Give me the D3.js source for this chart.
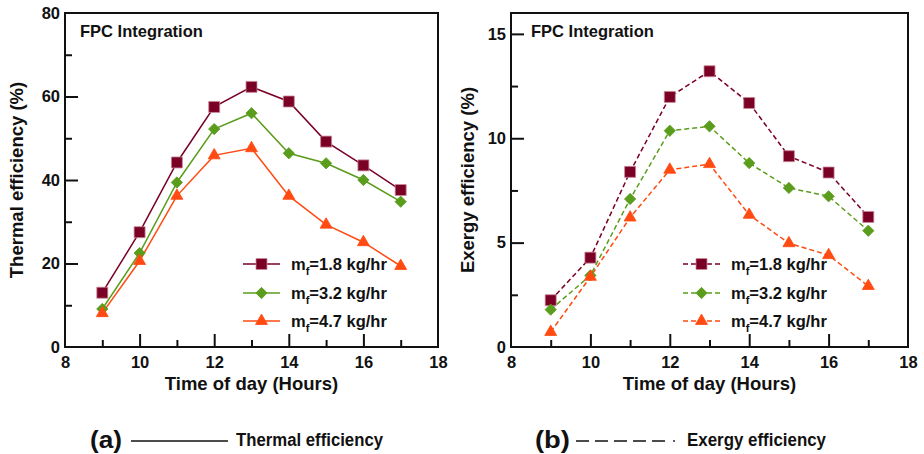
<!DOCTYPE html>
<html><head><meta charset="utf-8">
<script src="https://cdn.jsdelivr.net/npm/d3@7"></script>
<style>
body{margin:0;background:#fff;}
text{font-family:"Liberation Sans",Arial,sans-serif;font-weight:bold;fill:#111;}
</style></head>
<body><svg id="c" width="924" height="454"></svg>
<script>
const hours = [9,10,11,12,13,14,15,16,17];
const seriesNames = ["1.8 kg/hr","3.2 kg/hr","4.7 kg/hr"];
const thermal18 = [13.0,27.5,44.2,57.5,62.3,58.8,49.2,43.5,37.6];
const thermal32 = [9.1,22.5,39.4,52.2,56.0,46.4,44.0,40.0,34.8];
const thermal47 = [8.1,20.6,36.2,45.9,47.6,36.2,29.3,25.1,19.4];
const exergy18 = [2.24,4.28,8.39,11.98,13.21,11.69,9.14,8.36,6.23];
const exergy32 = [1.79,3.43,7.09,10.36,10.57,8.81,7.62,7.22,5.57];
const exergy47 = [0.72,3.36,6.20,8.49,8.76,6.33,4.97,4.40,2.92];
const xTicks = [8,10,12,14,16,18];
const thermalTicks = [0,20,40,60,80];
const exergyTicks = [0,5,10,15];

const colors = ["#7a0025","#5a9c1c","#ff4a12"];
// wide diamond (rotated square)
const wideDiamond = {draw(ctx,size){const r=Math.sqrt(size/2);ctx.moveTo(0,-r);ctx.lineTo(r,0);ctx.lineTo(0,r);ctx.lineTo(-r,0);ctx.closePath();}};
const shapes = [d3.symbolSquare, wideDiamond, d3.symbolTriangle];
const sizes = [121, 64, 62];

const svg = d3.select("#c");

function panel(o){
  const g = svg.append("g");
  const x = d3.scaleLinear().domain([8,18]).range([o.x0,o.x1]);
  const y = d3.scaleLinear().domain([0,o.ymax]).range([o.y1,o.y0]);
  const minorX = d3.range(9,18,1);
  g.append("g").attr("transform",`translate(0,${o.y1})`)
    .call(d3.axisBottom(x).tickValues(minorX).tickSize(0).tickFormat(""))
    .call(s=>s.select(".domain").remove())
    .call(s=>s.selectAll(".tick line").attr("y2",d=>d%2===0?-13:-7).attr("stroke","#111").attr("stroke-width",2));
  g.append("g").attr("transform",`translate(0,${o.y1})`)
    .call(d3.axisBottom(x).tickValues(xTicks).tickSize(0).tickPadding(9))
    .call(s=>s.select(".domain").remove())
    .call(s=>s.selectAll("text").attr("font-size",16.5).attr("font-family","Liberation Sans, Arial").attr("font-weight","bold").attr("fill","#111"));
  g.append("g").attr("transform",`translate(${o.x0},0)`)
    .call(d3.axisLeft(y).tickValues(o.minorY).tickSize(0).tickFormat(""))
    .call(s=>s.select(".domain").remove())
    .call(s=>s.selectAll(".tick line").attr("x2",d=>o.yTicks.includes(d)?13:7).attr("stroke","#111").attr("stroke-width",2));
  g.append("g").attr("transform",`translate(${o.x0},0)`)
    .call(d3.axisLeft(y).tickValues(o.yTicks).tickSize(0).tickPadding(5))
    .call(s=>s.select(".domain").remove())
    .call(s=>s.selectAll("text").attr("font-size",16.5).attr("font-family","Liberation Sans, Arial").attr("font-weight","bold").attr("fill","#111"));
  g.append("rect").attr("x",o.x0).attr("y",o.y0).attr("width",o.x1-o.x0).attr("height",o.y1-o.y0)
    .attr("fill","none").attr("stroke","#111").attr("stroke-width",2);

  const line = d3.line().x((d,i)=>x(hours[i])).y(d=>y(d));
  o.data.forEach((arr,k)=>{
    g.append("path").datum(arr).attr("d",line).attr("fill","none").attr("stroke",colors[k])
      .attr("stroke-width",1.5).attr("stroke-dasharray",o.dash||null);
  });
  o.data.forEach((arr,k)=>{
    g.selectAll(null).data(arr).enter().append("path")
      .attr("d",d3.symbol().type(shapes[k]).size(sizes[k]))
      .attr("transform",(d,i)=>`translate(${x(hours[i])},${y(d)})`)
      .attr("fill",colors[k]).attr("stroke",k===0?"#c98a9a":colors[k]).attr("stroke-width",0.8);
  });
  g.append("text").attr("x",o.titleX).attr("y",37).attr("font-size",16.5).text("FPC Integration");
  g.append("text").attr("x",(o.x0+o.x1)/2).attr("y",390).attr("text-anchor","middle").attr("font-size",18.5).text("Time of day (Hours)");
  g.append("text").attr("transform",`translate(${o.ylabX},${(o.y0+o.y1)/2}) rotate(-90)`).attr("text-anchor","middle").attr("font-size",18.5).text(o.ylabel);
  const rows=[264,293,321];
  seriesNames.forEach((nm,k)=>{
    const lx=o.legX, ry=rows[k];
    g.append("line").attr("x1",lx).attr("x2",lx+37).attr("y1",ry).attr("y2",ry).attr("stroke",colors[k]).attr("stroke-width",1.5).attr("stroke-dasharray",o.dash||null);
    g.append("path").attr("d",d3.symbol().type(shapes[k]).size(sizes[k])).attr("transform",`translate(${lx+18.5},${ry})`)
      .attr("fill",colors[k]).attr("stroke",k===0?"#c98a9a":colors[k]).attr("stroke-width",0.8);
    const t=g.append("text").attr("x",lx+48).attr("y",ry+6).attr("font-size",16.5);
    t.append("tspan").text("m");
    t.append("tspan").attr("dy",5).attr("font-size",11).text("f");
    t.append("tspan").attr("dy",-5).text("="+nm);
  });
}

panel({x0:65,x1:438,y0:13,y1:347,ymax:80,yTicks:thermalTicks,minorY:d3.range(10,80,10),
  data:[thermal18,thermal32,thermal47],titleX:80,ylabX:23,ylabel:"Thermal efficiency (%)",legX:243});
panel({x0:511,x1:908,y0:13,y1:347,ymax:16,yTicks:exergyTicks,minorY:[2.5,5,7.5,10,12.5,15],
  data:[exergy18,exergy32,exergy47],dash:"5,3",titleX:531,ylabX:474,ylabel:"Exergy efficiency (%)",legX:683});

const narrow = "'Liberation Sans Narrow','Arial Narrow','Liberation Sans',Arial,sans-serif";
svg.append("text").attr("x",90).attr("y",448).attr("font-size",24).attr("font-family",narrow).attr("textLength",32).attr("lengthAdjust","spacingAndGlyphs").text("(a)");
svg.append("line").attr("x1",131).attr("x2",228).attr("y1",441).attr("y2",441).attr("stroke","#111").attr("stroke-width",1.6);
svg.append("text").attr("x",236).attr("y",446).attr("font-size",18).attr("font-family",narrow).attr("textLength",147).attr("lengthAdjust","spacingAndGlyphs").text("Thermal efficiency");
svg.append("text").attr("x",535).attr("y",448).attr("font-size",24).attr("font-family",narrow).attr("textLength",35).attr("lengthAdjust","spacingAndGlyphs").text("(b)");
svg.append("line").attr("x1",576).attr("x2",668).attr("y1",441).attr("y2",441).attr("stroke","#111").attr("stroke-width",1.6).attr("stroke-dasharray","13,6");
svg.append("circle").attr("cx",674).attr("cy",441).attr("r",0.9).attr("fill","#111");
svg.append("text").attr("x",687).attr("y",446).attr("font-size",18).attr("font-family",narrow).attr("textLength",139).attr("lengthAdjust","spacingAndGlyphs").text("Exergy efficiency");
</script></body></html>
